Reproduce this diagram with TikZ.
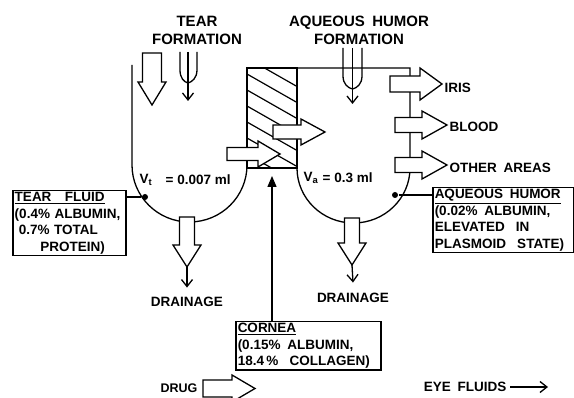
\documentclass[tikz,border=0pt]{standalone}
\usepackage{fontspec}
\setmainfont{Liberation Sans}
\usetikzlibrary{arrows.meta}
\begin{document}
\begin{tikzpicture}[x=1pt,y=-1pt,
  line width=1.3pt,
  barrow/.style={draw, fill=white, line width=1.3pt, line join=miter},
  lbl/.style={font=\fontsize{13.5}{16}\selectfont\bfseries, inner sep=0pt},
  headtxt/.style={font=\fontsize{15}{18}\selectfont\bfseries, inner sep=0pt, align=center},
  infobox/.style={draw, line width=1.5pt, font=\fontsize{13.5}{16.5}\selectfont\bfseries, align=left, anchor=north west, inner xsep=2pt, inner ysep=1.5pt},
  barb/.style={-{Straight Barb[length=7pt,width=11pt]}},
  dot/.style={circle, fill, inner sep=0pt, minimum size=6pt},
  pics/rarrow/.style args={#1/#2/#3/#4}{code={\draw[barrow] (0,-#3) -- (#1,-#3) -- (#1,-#4) -- (#1+#2,0) -- (#1,#4) -- (#1,#3) -- (0,#3) -- cycle;}},
  pics/darrow/.style args={#1/#2/#3/#4}{code={\draw[barrow] (-#3,0) -- (-#3,#1) -- (-#4,#1) -- (0,#1+#2) -- (#4,#1) -- (#3,#1) -- (#3,0) -- cycle;}},
]
\useasboundingbox (0,0) rectangle (574,398);

% headings
\node[headtxt] (tearf) at (197,30) {TEAR\\FORMATION};
\node[headtxt] (aqf) at (359,30) {AQUEOUS\enspace HUMOR\\FORMATION};

% hatching of the cornea block
\begin{scope}
  \clip (247,68) rectangle (297,168);
  \foreach \k in {0,...,8}
    \draw[line width=1.2pt] (240,{58+16*\k-0.57*7}) -- (305,{58+16*\k+0.57*58});
\end{scope}

% tear vessel
\draw (132,65) -- (132,165) arc[start angle=180, end angle=0, x radius=57.5, y radius=57];
% aqueous vessel
\draw (297,168) arc[start angle=180, end angle=0, x radius=56.5, y radius=55] -- (410,68) -- (297,68);
% cornea block
\draw (247,68) rectangle (297,168);

% arrows through the cornea
\pic at (273,132) {rarrow=28/24/7/13};
\pic at (227,154) {rarrow=31/22/6.5/13};

% tear formation
\pic at (152,53) {darrow=29/23/9.5/14};
\draw (180,52) -- (180,70) .. controls (180,78) and (184,82) .. (188,83);
\draw (197,52) -- (197,70) .. controls (197,78) and (192,82) .. (188,83);
\draw[barb] (188,52) -- (188,101);

% aqueous humor formation
\draw (343,48) -- (343,76) .. controls (343,84) and (348,88) .. (352.5,89);
\draw (362,48) -- (362,76) .. controls (362,84) and (357,88) .. (352.5,89);
\draw[barb] (352.5,48) -- (352.5,104);

% outflow arrows on the right wall
\pic at (390,84) {rarrow=30/22/8/16};
\pic at (395,125) {rarrow=27/25/7.5/14};
\pic at (395,165) {rarrow=27/25/7.5/14};
\node[lbl, anchor=west] (iris) at (444,88) {IRIS};
\node[lbl, anchor=west] (blood) at (449,127) {BLOOD};
\node[lbl, anchor=west] (other) at (449,168) {OTHER\enspace AREAS};

% volumes
\node[lbl] (vt) at (146,180) {V\textsubscript{t}};
\node[lbl, anchor=west] (vtv) at (165,180) {= 0.007 ml};
\node[lbl] (va) at (311,178) {V\textsubscript{a}};
\node[lbl, anchor=west] (vav) at (322,178) {= 0.3 ml};

% drainage
\pic at (187,217) {darrow=28/22/7.5/14};
\coordinate (dlt) at (187,267);
\node[lbl] (drainL) at (187,302) {DRAINAGE};
\draw[barb] (dlt) -- ([yshift=9pt]drainL.north);
\pic at (352,218) {darrow=25/22/7.5/14};
\coordinate (drt) at (352,265);
\node[lbl] (drainR) at (353,298) {DRAINAGE};
\draw[barb] (drt) -- ([yshift=10pt]drainR.north);

% info boxes
\node[infobox, text width=109pt] (tf) at (12,190) {\underline{TEAR\quad FLUID}\\(0.4\% ALBUMIN,\\\hspace*{0.3em}0.7\% TOTAL\\\hspace*{1.9em}PROTEIN)};
\node[infobox, text width=137pt] (ah) at (432,187) {\underline{AQUEOUS\enspace HUMOR}\\(0.02\%\enspace ALBUMIN,\\ELEVATED\enspace\ IN\\PLASMOID\enspace\ STATE)};
\node[infobox, text width=141pt] (cb) at (235,321) {\underline{CORNEA}\\(0.15\%\enspace ALBUMIN,\\18.4\,\%\enspace\ COLLAGEN)};

% dots and leaders
\node[dot] (dotL) at (145,197) {};
\node[dot] (dotR) at (395,195) {};
\draw (tf.east |- dotL) -- (dotL);
\draw (ah.west |- dotR) -- (dotR);

% arrow from cornea box to cornea
\coordinate (ctip) at (272,176);
\draw[-{Triangle[length=11pt,width=9pt]}] (ctip |- cb.north) -- (ctip);

% legend
\node[lbl, font=\fontsize{12.5}{15}\selectfont\bfseries] (drug) at (179,388) {DRUG};
\pic at (203,388.5) {rarrow=29/23/8.5/13.5};
\node[lbl, anchor=east] (ef) at (507,387) {EYE\enspace FLUIDS};
\coordinate (efend) at (548,387);
\draw[barb] ([xshift=3pt]ef.east) -- (efend);
\end{tikzpicture}
\end{document}
